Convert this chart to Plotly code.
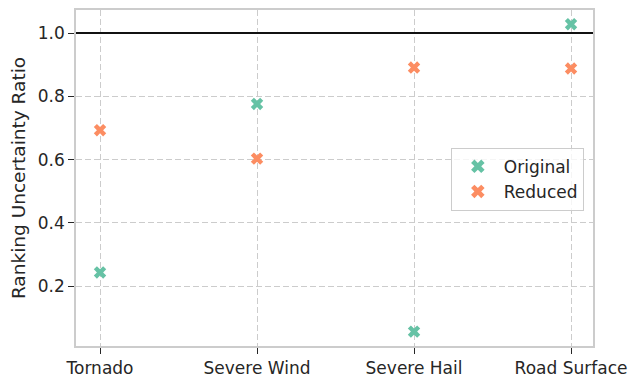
import plotly.graph_objects as go

categories = ["Tornado", "Severe Wind", "Severe Hail", "Road Surface"]
original = [0.243, 0.776, 0.056, 1.028]
reduced = [0.693, 0.603, 0.891, 0.888]
y_ticks = [0.2, 0.4, 0.6, 0.8, 1.0]

FONT = "DejaVu Sans"
TEXT = "#262626"
GRID = "#cccccc"
DASH = "6px,3px"

fig = go.Figure()
fig.add_trace(go.Scatter(
    x=categories, y=original, mode="markers", name="Original",
    marker=dict(symbol="x", size=11, color="#66c2a5", line=dict(width=0)),
))
fig.add_trace(go.Scatter(
    x=categories, y=reduced, mode="markers", name="Reduced",
    marker=dict(symbol="x", size=11, color="#fc8d62", line=dict(width=0)),
))

# reference line at ratio 1.0
fig.add_shape(type="line", xref="paper", x0=0, x1=1, yref="y", y0=1.0, y1=1.0,
              line=dict(color="#111111", width=2), layer="above")

fig.update_layout(
    width=629, height=377,
    margin=dict(l=76, r=36, t=10, b=31),
    paper_bgcolor="white", plot_bgcolor="white",
    font=dict(family=FONT, size=17, color=TEXT),
    showlegend=True,
    legend=dict(
        x=0.725, y=0.59, xanchor="left", yanchor="top",
        bgcolor="rgba(255,255,255,0.8)", bordercolor=GRID, borderwidth=1,
        font=dict(family=FONT, size=17, color=TEXT),
        itemsizing="constant", itemwidth=42,
    ),
    xaxis=dict(
        type="category", range=[-0.153, 3.14], automargin=False,
        showgrid=True, gridcolor=GRID, griddash=DASH, gridwidth=1,
        ticks="outside", ticklen=6, tickwidth=1.2, tickcolor=TEXT,
        showline=True, linecolor=GRID, linewidth=1.5, mirror=True,
        zeroline=False,
    ),
    yaxis=dict(
        range=[0.0105, 1.073], tickvals=y_ticks, ticktext=[f"{v:.1f}" for v in y_ticks],
        automargin=False,
        title=dict(text="Ranking Uncertainty Ratio", font=dict(size=18.5), standoff=7),
        showgrid=True, gridcolor=GRID, griddash=DASH, gridwidth=1,
        ticks="outside", ticklen=6, tickwidth=1.2, tickcolor=TEXT,
        showline=True, linecolor=GRID, linewidth=1.5, mirror=True,
        zeroline=False,
    ),
)

fig.write_html("out.html")
